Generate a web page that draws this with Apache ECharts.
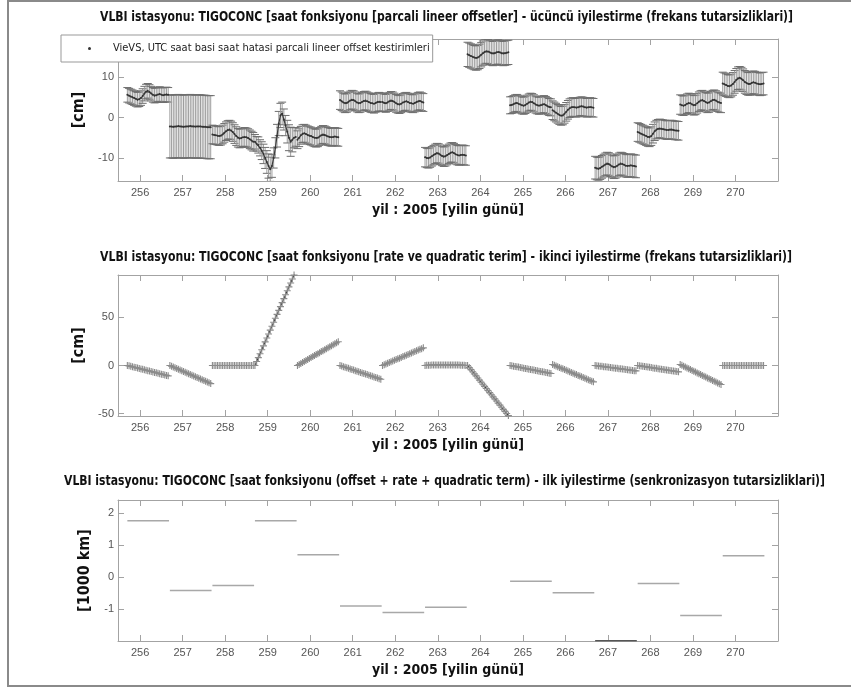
<!DOCTYPE html>
<html><head><meta charset="utf-8">
<script src="https://cdn.jsdelivr.net/npm/echarts@6/dist/echarts.min.js"></script>
<style>html,body{margin:0;padding:0;background:#fff}#c{width:851px;height:689px}</style>
</head><body><div id="c"></div>
<script>
// ---------------- data ----------------
const dayTicks = [256,257,258,259,260,261,262,263,264,265,266,267,268,269,270];
const cmTicksTop = [-10,0,10];
const cmTicksMid = [-50,0,50];
const kmTicks = [-1,0,1,2];

const sessionStarts = [255.70,256.70,257.70,258.70,259.70,260.70,261.70,262.70,263.70,264.70,265.70,266.70,267.70,268.70,269.70];
const sessionEnds   = [256.68,257.68,258.68,259.68,260.68,261.68,262.68,263.68,264.68,265.68,266.68,267.68,268.68,269.68,270.68];
const hourStep = 0.04; // hourly epochs (days)

// panel 1: piecewise linear offsets [cm]
const offsetValues = [
 [5.6,5.4,5.2,5.0,4.8,4.6,4.4,4.5,4.8,5.3,5.9,6.4,6.6,6.3,5.9,5.6,5.4,5.5,5.7,5.8,5.6,5.5,5.6,5.7,5.6],
 [-2.2,-2.2,-2.3,-2.2,-2.2,-2.1,-2.2,-2.2,-2.3,-2.2,-2.2,-2.2,-2.1,-2.2,-2.2,-2.3,-2.2,-2.2,-2.2,-2.3,-2.3,-2.3,-2.4,-2.4,-2.4],
 [-4.2,-4.3,-4.4,-4.5,-4.6,-4.5,-4.2,-3.8,-3.4,-3.1,-3.0,-3.2,-3.6,-4.1,-4.6,-5.0,-5.2,-5.1,-4.9,-4.8,-4.9,-5.1,-5.4,-5.7,-6.0],
 [-6.0,-6.5,-6.8,-7.5,-8.2,-9.0,-10.0,-11.0,-12.0,-12.8,-12.0,-10.0,-7.5,-4.5,-1.5,0.5,1.0,-0.5,-2.0,-3.5,-5.0,-6.0,-5.5,-5.0,-4.8],
 [-5.5,-5.0,-4.4,-4.0,-3.9,-4.1,-4.3,-4.5,-4.6,-4.8,-5.0,-5.1,-5.0,-4.7,-4.4,-4.2,-4.3,-4.5,-4.7,-4.8,-4.9,-4.8,-4.7,-4.8,-4.9],
 [4.3,4.0,3.7,3.5,3.6,3.9,4.2,4.4,4.3,4.0,3.7,3.5,3.6,3.9,4.1,4.2,4.0,3.8,3.6,3.5,3.4,3.6,3.8,3.9,3.8],
 [3.8,3.6,3.5,3.7,4.0,4.2,4.1,3.8,3.5,3.3,3.2,3.4,3.7,3.9,4.0,3.8,3.6,3.5,3.4,3.6,3.8,4.0,4.1,3.9,3.7],
 [-9.8,-10.0,-10.1,-9.9,-9.6,-9.3,-9.0,-8.8,-8.9,-9.2,-9.5,-9.7,-9.6,-9.3,-9.0,-8.7,-8.6,-8.8,-9.1,-9.3,-9.4,-9.3,-9.2,-9.3,-9.4],
 [15.6,15.4,15.2,15.0,14.8,14.7,14.8,15.1,15.5,15.9,16.2,16.4,16.3,16.1,15.9,15.8,15.9,16.1,16.2,16.1,15.9,15.8,15.9,16.0,16.1],
 [3.0,3.1,3.3,3.5,3.6,3.4,3.2,3.0,2.9,3.1,3.4,3.7,3.9,3.8,3.5,3.2,3.0,2.9,3.0,3.2,3.3,3.1,2.8,2.6,2.5],
 [1.8,1.5,1.2,0.9,0.6,0.4,0.5,0.9,1.4,1.9,2.3,2.5,2.6,2.5,2.4,2.5,2.7,2.8,2.7,2.5,2.4,2.5,2.6,2.5,2.4],
 [-12.4,-12.6,-12.7,-12.5,-12.2,-11.9,-11.6,-11.4,-11.5,-11.8,-12.1,-12.3,-12.2,-11.9,-11.6,-11.4,-11.5,-11.7,-11.9,-12.0,-11.9,-11.8,-11.9,-12.0,-12.1],
 [-3.6,-3.8,-4.0,-4.2,-4.4,-4.6,-4.8,-4.9,-4.6,-4.0,-3.4,-3.0,-2.8,-2.7,-2.8,-2.9,-3.0,-3.1,-3.1,-3.0,-3.0,-3.1,-3.2,-3.2,-3.3],
 [3.2,3.0,2.9,3.1,3.4,3.6,3.5,3.2,3.0,3.1,3.5,3.9,4.2,4.3,4.1,3.8,3.6,3.7,4.0,4.3,4.4,4.2,3.9,3.7,3.6],
 [8.4,8.2,8.0,7.8,7.7,7.9,8.3,8.8,9.3,9.7,9.8,9.6,9.2,8.8,8.5,8.3,8.3,8.5,8.7,8.6,8.4,8.3,8.2,8.3,8.4]
];
// formal errors (±) [cm]; one value per session, or one per epoch
const offsetErrors = [
 1.8, 7.8, 2.3,
 [1.8,1.8,2.0,2.0,2.2,2.4,2.6,2.8,3.0,3.0,2.8,2.5,2.5,2.8,3.0,3.0,2.8,2.6,2.5,2.8,3.2,3.6,3.0,2.5,2.3],
 2.2, 2.3, 2.2, 2.4, 3.0, 2.1, 2.3, 2.8, 2.3, 2.4, 2.8
];

// panel 2: rate + quadratic term [cm]
const rateValues = [
 [0,-0.4,-0.9,-1.3,-1.8,-2.2,-2.7,-3.1,-3.6,-4.0,-4.5,-4.9,-5.4,-5.8,-6.3,-6.7,-7.2,-7.6,-8.1,-8.5,-9.0,-9.4,-9.9,-10.3,-10.8],
 [0,-0.8,-1.6,-2.3,-3.1,-3.9,-4.7,-5.5,-6.3,-7.0,-7.8,-8.6,-9.4,-10.2,-11.0,-11.7,-12.5,-13.3,-14.1,-14.9,-15.7,-16.4,-17.2,-18.0,-18.8],
 [0,0,0,0,0,0,0,0,0,0,0,0,0,0,0,0,0,0,0,0,0,0,0,0,0],
 [0,4.1,8.2,12.2,16.3,20.4,24.5,28.6,32.7,36.7,40.8,44.9,49.0,53.1,57.2,61.2,65.3,69.4,73.5,77.6,81.7,85.7,89.8,93.9,98.0],
 [0,1.0,2.1,3.1,4.1,5.1,6.2,7.2,8.2,9.2,10.3,11.3,12.3,13.3,14.4,15.4,16.4,17.4,18.5,19.5,20.5,21.5,22.6,23.6,24.6],
 [0,-0.6,-1.2,-1.8,-2.4,-3.0,-3.6,-4.2,-4.8,-5.4,-6.0,-6.6,-7.2,-7.7,-8.3,-8.9,-9.5,-10.1,-10.7,-11.3,-11.9,-12.5,-13.1,-13.7,-14.3],
 [0,0.8,1.5,2.3,3.1,3.8,4.6,5.3,6.1,6.9,7.6,8.4,9.2,9.9,10.7,11.4,12.2,13.0,13.7,14.5,15.3,16.0,16.8,17.5,18.3],
 [0,0.1,0.2,0.3,0.4,0.4,0.5,0.5,0.6,0.6,0.6,0.6,0.6,0.6,0.6,0.6,0.6,0.5,0.5,0.4,0.4,0.3,0.2,0.1,0],
 [0,-2.2,-4.3,-6.5,-8.7,-10.8,-13.0,-15.2,-17.4,-19.5,-21.7,-23.9,-26.0,-28.2,-30.4,-32.6,-34.7,-36.9,-39.1,-41.2,-43.4,-45.6,-47.7,-49.9,-52.1],
 [0,-0.3,-0.7,-1.0,-1.4,-1.7,-2.1,-2.4,-2.8,-3.1,-3.5,-3.8,-4.2,-4.5,-4.8,-5.2,-5.5,-5.9,-6.2,-6.6,-6.9,-7.3,-7.6,-8.0,-8.3],
 [1.0,0.3,-0.5,-1.3,-2.0,-2.8,-3.5,-4.3,-5.0,-5.8,-6.5,-7.3,-8.0,-8.8,-9.5,-10.3,-11.0,-11.8,-12.5,-13.3,-14.0,-14.8,-15.5,-16.3,-17.0],
 [0,-0.2,-0.5,-0.7,-0.9,-1.2,-1.4,-1.6,-1.9,-2.1,-2.3,-2.6,-2.8,-3.0,-3.3,-3.5,-3.7,-4.0,-4.2,-4.4,-4.7,-4.9,-5.1,-5.4,-5.6],
 [0,-0.3,-0.6,-0.8,-1.1,-1.4,-1.7,-1.9,-2.2,-2.5,-2.8,-3.0,-3.3,-3.6,-3.9,-4.1,-4.4,-4.7,-5.0,-5.2,-5.5,-5.8,-6.1,-6.3,-6.6],
 [1.0,0.1,-0.7,-1.6,-2.5,-3.3,-4.2,-5.1,-5.9,-6.8,-7.7,-8.5,-9.4,-10.3,-11.1,-12.0,-12.9,-13.7,-14.6,-15.5,-16.3,-17.2,-18.1,-18.9,-19.8],
 [0,0,0,0,0,0,0,0,0,0,0,0,0,0,0,0,0,0,0,0,0,0,0,0,0]
];

// panel 3: offset + rate + quadratic term [1000 km]; null = not visible
const syncValues = [1.77,-0.42,-0.26,1.77,0.70,-0.90,-1.11,-0.94,null,-0.13,-0.49,-1.99,-0.20,-1.20,0.67];

const titles = [
 'VLBI istasyonu: TIGOCONC [saat fonksiyonu [parcali lineer offsetler] - ücüncü iyilestirme (frekans tutarsizliklari)]',
 'VLBI istasyonu: TIGOCONC [saat fonksiyonu [rate ve quadratic terim] - ikinci iyilestirme (frekans tutarsizliklari)]',
 'VLBI istasyonu: TIGOCONC [saat fonksiyonu (offset + rate + quadratic term) - ilk iyilestirme (senkronizasyon tutarsizliklari)]'
];
const xName = 'yil : 2005 [yilin günü]';
const yNames = ['[cm]','[cm]','[1000 km]'];
const legendName = 'VieVS, UTC saat basi saat hatasi parcali lineer offset kestirimleri';

// ---------------- chart ----------------
const narrow = "'DejaVu Sans Condensed',sans-serif";
const grids = [
 {left:118, top:39, width:660, height:142},
 {left:118, top:275, width:660, height:141},
 {left:118, top:500, width:660, height:141}
];
const yRanges = [[-15.7,19.4],[-52.5,94],[-2.0,2.42]];
const yTicks = [cmTicksTop, cmTicksMid, kmTicks];
const xMin = 255.48, xMax = 271.0;
const axisGray = '#a3a3a3';

// title placement (centre x, centre y, width to fit)
const titleBoxes = [[446.5,17.5,693],[446,257,692],[444.5,481,761]];
const titleFont = "bold 14px 'DejaVu Sans Condensed'";
const mctx = document.createElement('canvas').getContext('2d');
mctx.font = titleFont;

function xAxisCfg(g, top) {
  return {
    type:'value', gridIndex:g, position: top ? 'top' : 'bottom', min:xMin, max:xMax,
    axisLine:{show:true, onZero:false, lineStyle:{color:axisGray, width:1}},
    axisTick:{show:true, inside:true, length:6, customValues:dayTicks, lineStyle:{color:axisGray}},
    axisLabel:{show:!top, customValues:dayTicks, color:'#555', fontSize:11, fontFamily:'Liberation Sans', margin:6},
    splitLine:{show:false},
    name: top ? '' : xName, nameLocation:'middle', nameGap:22,
    nameTextStyle:{fontFamily:narrow, fontWeight:'bold', fontSize:14, color:'#111'}
  };
}
function yAxisCfg(g, right) {
  return {
    type:'value', gridIndex:g, position: right ? 'right' : 'left', min:yRanges[g][0], max:yRanges[g][1],
    axisLine:{show:true, onZero:false, lineStyle:{color:axisGray, width:1}},
    axisTick:{show:true, inside:true, length:6, customValues:yTicks[g], lineStyle:{color:axisGray}},
    axisLabel:{show:!right, customValues:yTicks[g], color:'#555', fontSize:11, fontFamily:'Liberation Sans', margin:4},
    splitLine:{show:false},
    name: right ? '' : yNames[g], nameLocation:'middle', nameGap: g === 2 ? 13 : 21,
    nameTextStyle:{fontFamily:narrow, fontWeight:'bold', fontSize:16, color:'#111'}
  };
}

const series = [];
// panel 1 error bars
const errData = [];
offsetValues.forEach((vals, k) => {
  vals.forEach((v, i) => {
    const e = Array.isArray(offsetErrors[k]) ? offsetErrors[k][i] : offsetErrors[k];
    errData.push([+(sessionStarts[k] + i*hourStep).toFixed(3), v, v - e, v + e]);
  });
});
series.push({
  type:'custom', name:'errorbars', xAxisIndex:0, yAxisIndex:0, clip:true, silent:true, z:2,
  encode:{x:0, y:[2,3]}, data:errData,
  renderItem:(p, api) => {
    const x = api.value(0), lo = api.value(2), hi = api.value(3);
    const a = api.coord([x, hi]), b = api.coord([x, lo]); const w = 4;
    return {type:'group', children:[
      {type:'line', shape:{x1:a[0], y1:a[1], x2:b[0], y2:b[1]}, style:{stroke:'#9c9c9c', lineWidth:1}},
      {type:'line', shape:{x1:a[0]-w, y1:a[1], x2:a[0]+w, y2:a[1]}, style:{stroke:'#6e6e6e', lineWidth:1}},
      {type:'line', shape:{x1:b[0]-w, y1:b[1], x2:b[0]+w, y2:b[1]}, style:{stroke:'#6e6e6e', lineWidth:1}}
    ]};
  }
});
offsetValues.forEach((vals, k) => {
  series.push({
    type:'line', name:legendName, xAxisIndex:0, yAxisIndex:0, z:3, clip:true,
    data: vals.map((v, i) => [+(sessionStarts[k] + i*hourStep).toFixed(3), v]),
    symbol:'circle', symbolSize:2, showSymbol:true,
    lineStyle:{color:'#3c3c3c', width:1.2}, itemStyle:{color:'#333'}
  });
});
// panel 2
const plusPath = 'path://M-0.16,-1H0.16V-0.16H1V0.16H0.16V1H-0.16V0.16H-1V-0.16H-0.16Z';
rateValues.forEach((vals, k) => {
  series.push({
    type:'line', name:'rate'+k, xAxisIndex:1, yAxisIndex:1, z:3, clip:true,
    data: vals.map((v, i) => [+(sessionStarts[k] + i*hourStep).toFixed(3), v]),
    symbol:plusPath, symbolSize:7, showSymbol:true,
    lineStyle:{color:'#111', width:1}, itemStyle:{color:'#8c8c8c'}
  });
});
// panel 3
syncValues.forEach((v, k) => {
  if (v === null) return;
  series.push({
    type:'line', name:'sync'+k, xAxisIndex:2, yAxisIndex:2, z:3, clip:true,
    data:[[sessionStarts[k], v], [sessionEnds[k], v]],
    symbol:'none', lineStyle:{color: v < -1.9 ? '#555' : '#a8a8a8', width:1.5}
  });
});

const titleGraphics = titles.map((t, i) => {
  const [cx, cy, w] = titleBoxes[i];
  const s = w / mctx.measureText(t).width;
  return {type:'text', x:cx, y:cy, scaleX:s, silent:true, z:20,
    style:{text:t, font:titleFont, fill:'#111', textAlign:'center', textVerticalAlign:'middle'}};
});

const option = {
  animation:false,
  backgroundColor:'#fff',
  legend:{
    data:[legendName], left:61, top:35, padding:[8,3,8,27], icon:'circle', itemWidth:3, itemHeight:3,
    textStyle:{fontFamily:narrow, fontSize:11, color:'#222', padding:[0,0,0,17]},
    borderColor:'#999', borderWidth:1, backgroundColor:'#fff', selectedMode:false, z:10
  },
  grid: grids.map(g => Object.assign({outerBoundsMode:'none', containLabel:false}, g)),
  xAxis:[xAxisCfg(0,false), xAxisCfg(1,false), xAxisCfg(2,false), xAxisCfg(0,true), xAxisCfg(1,true), xAxisCfg(2,true)],
  yAxis:[yAxisCfg(0,false), yAxisCfg(1,false), yAxisCfg(2,false), yAxisCfg(0,true), yAxisCfg(1,true), yAxisCfg(2,true)],
  graphic:[
    {type:'rect', shape:{x:8, y:1, width:860, height:685}, style:{fill:'none', stroke:'#8a8a8a', lineWidth:2}, silent:true, z:-1}
  ].concat(titleGraphics),
  series
};
const chart = echarts.init(document.getElementById('c'), null, {renderer:'canvas'});
chart.setOption(option);
</script></body></html>
